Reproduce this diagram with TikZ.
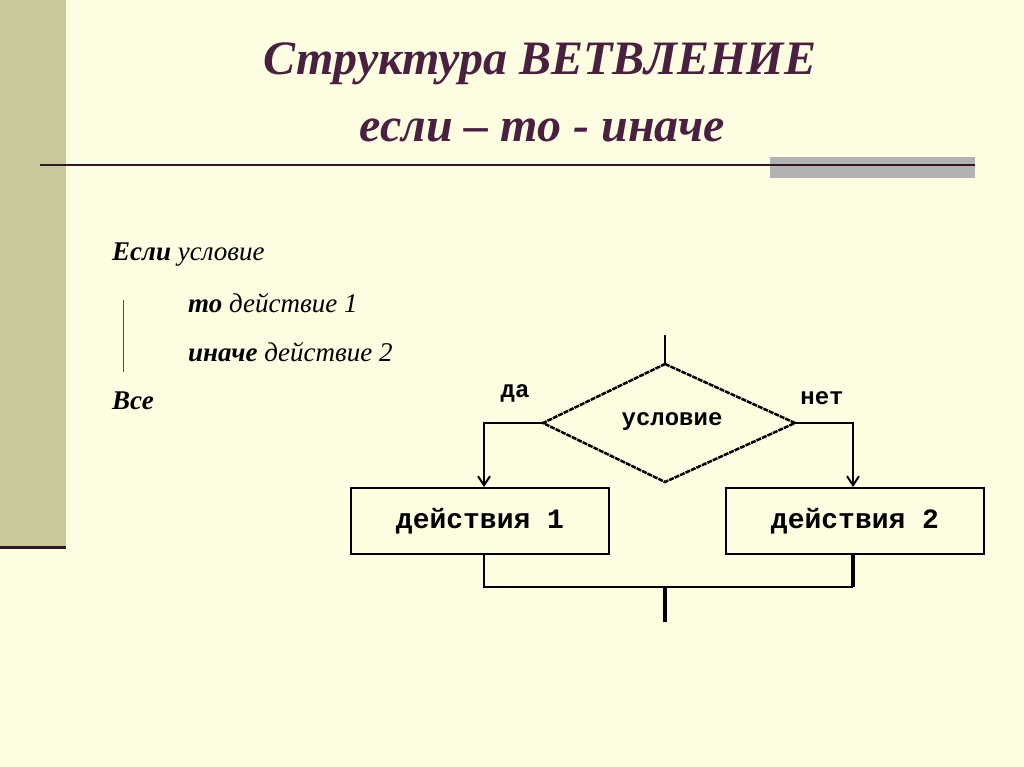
\documentclass[tikz,border=0pt]{standalone}
\usepackage{fontspec}
\setmainfont{Liberation Serif}
\newfontfamily\pixfont{Liberation Mono}
\usetikzlibrary{arrows.meta}
\definecolor{bg}{HTML}{FDFDE2}
\definecolor{strip}{HTML}{C8C89A}
\definecolor{ttl}{HTML}{4A2040}
\definecolor{rule}{HTML}{301828}
\begin{document}
\begin{tikzpicture}[x=1pt,y=-1pt,
  flow/.style={line width=2pt,black},
  fbox/.style={draw,line width=2.5pt,minimum width=258pt,minimum height=66pt,inner sep=0pt,font=\pixfont\bfseries\fontsize{28}{30}\selectfont},
  lbl/.style={font=\pixfont\bfseries\fontsize{24}{26}\selectfont},
  body/.style={anchor=west,inner sep=0pt,font=\itshape\fontsize{27}{30}\selectfont},
  title/.style={font=\bfseries\itshape\fontsize{48}{52}\selectfont,text=ttl}]
\useasboundingbox (0,0) rectangle (1024,767);
\fill[bg] (0,0) rectangle (1024,767);
\fill[strip] (0,0) rectangle (66,546);
\draw[rule,line width=3pt] (0,547) -- (66,547);
\fill[black!30] (770,157) rectangle (975,178);
\draw[rule,line width=2.5pt] (40,165) -- (975,165);
\node[title] (t1) at (540,64) {Структура ВЕТВЛЕНИЕ};
\node[title] (t2) at (542,130) {если – то - иначе};
\node[body] (l1) at (112,255) {\textbf{Если} условие};
\node[body] (l2) at (188,303) {\textbf{то} действие 1};
\node[body] (l3) at (188,352) {\textbf{иначе} действие 2};
\node[body] (l4) at (112,401) {\textbf{Все}};
\draw[black!70,line width=0.6pt] (123,300) -- (123,372);
% flowchart
\coordinate (top) at (665,335);
\coordinate (dT) at (665,364);
\coordinate (dL) at (543,423);
\coordinate (dR) at (795,423);
\coordinate (dB) at (665,482);
\draw[flow] (top) -- (dT);
\draw[line width=2.5pt,dash pattern=on 5pt off 1pt] (dT) -- (dR) -- (dB) -- (dL) -- cycle;
\node[lbl] (cond) at (672,422) {условие};
\node[lbl] (yes) at (515,393) {да};
\node[lbl] (no) at (822,398) {нет};
\node[fbox] (b1) at (480,521) {действия 1};
\node[fbox] (b2) at (855,521) {действия 2};
\draw[flow,-{Straight Barb[length=9pt,width=12pt,line width=2pt]}] (dL) -- (484,423) -- (484,487);
\draw[flow,-{Straight Barb[length=9pt,width=12pt,line width=2pt]}] (dR) -- (853,423) -- (853,487);
\coordinate (m) at (665,587);
\coordinate (e) at (665,622);
\draw[flow] (b1.south -| 484,0) -- (484,587) -- (853,587);
\draw[line width=4pt] (b2.south -| 853,0) -- (853,587);
\draw[line width=4pt] (m) -- (e);
\end{tikzpicture}
\end{document}
